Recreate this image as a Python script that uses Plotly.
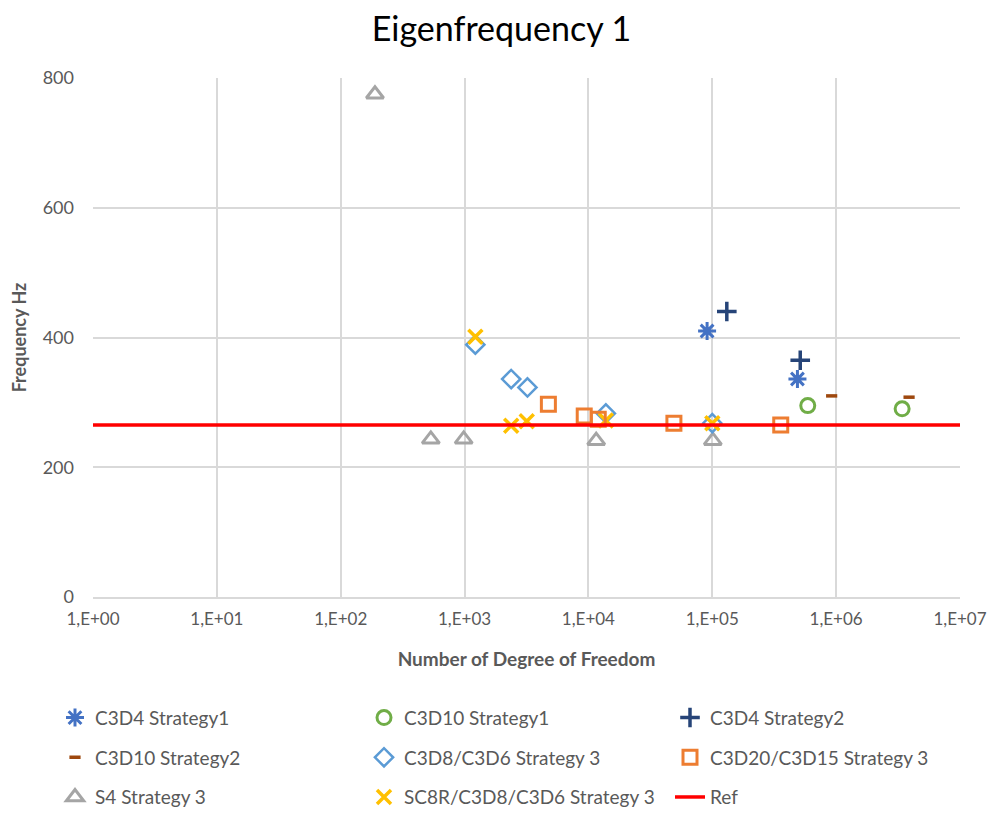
import plotly.graph_objects as go

# ---------------- data ----------------
c3d4_s1_x = [90800, 487000]
c3d4_s1_y = [410, 336]

c3d10_s1_x = [590000, 3410000]
c3d10_s1_y = [295, 290]

c3d4_s2_x = [131000, 513000]
c3d4_s2_y = [440, 365]

c3d10_s2_x = [920000, 3880000]
c3d10_s2_y = [310, 308]

c3d8_s3_x = [1222, 2378, 3219, 13830, 100000]
c3d8_s3_y = [389, 336, 323, 283, 268]

c3d20_s3_x = [4750, 9250, 12000, 49000, 357000]
c3d20_s3_y = [297, 279, 274, 268, 265]

s4_s3_x = [189, 534, 984, 11550, 101000]
s4_s3_y = [775, 243, 243, 241, 241]

sc8r_s3_x = [1222, 2378, 3177, 13830, 100000]
sc8r_s3_y = [401, 264, 271, 272, 268]

ref_value = 265
x_range_exp = [0, 7]
tick_exps = [0, 1, 2, 3, 4, 5, 6, 7]
tick_labels = ["1,E+00", "1,E+01", "1,E+02", "1,E+03", "1,E+04", "1,E+05", "1,E+06", "1,E+07"]
y_ticks = [0, 200, 400, 600, 800]

FONT = "Lato, 'Noto Sans', sans-serif"
GREY = "#595959"

fig = go.Figure()

def add(name, x, y, symbol, color, size, lw, legend):
    fig.add_trace(go.Scatter(
        x=x, y=y, mode="markers", name=name, legend=legend, legendgroup=name,
        marker=dict(symbol=symbol, size=size, color=color,
                    line=dict(color=color, width=lw)),
    ))

add("C3D4 Strategy1", c3d4_s1_x, c3d4_s1_y, "asterisk-open", "#4472C4", 15, 3, "legend")
add("C3D10 Strategy2", c3d10_s2_x, c3d10_s2_y, "line-ew-open", "#9E480E", 8, 3.5, "legend")
add("S4 Strategy 3", s4_s3_x, s4_s3_y, "triangle-up-open", "#A5A5A5", 15, 3, "legend")

add("C3D10 Strategy1", c3d10_s1_x, c3d10_s1_y, "circle-open", "#70AD47", 14, 3, "legend2")
add("C3D8/C3D6 Strategy 3", c3d8_s3_x, c3d8_s3_y, "diamond-open", "#5B9BD5", 14, 2.5, "legend2")
add("SC8R/C3D8/C3D6 Strategy 3", sc8r_s3_x, sc8r_s3_y, "x-thin-open", "#FFC000", 14, 3.5, "legend2")

add("C3D4 Strategy2", c3d4_s2_x, c3d4_s2_y, "cross-thin-open", "#264478", 14, 3.5, "legend3")
add("C3D20/C3D15 Strategy 3", c3d20_s3_x, c3d20_s3_y, "square-open", "#ED7D31", 14, 3, "legend3")

fig.add_trace(go.Scatter(
    x=[10 ** x_range_exp[0], 10 ** x_range_exp[1]], y=[ref_value, ref_value],
    mode="lines", name="Ref", legend="legend3", legendgroup="Ref",
    line=dict(color="#FF0000", width=3.5),
))

W, H = 995, 800
ML, MR, MT, MB = 85, 43, 70, 211
PW = W - ML - MR

def px_to_paper_x(fig_px):
    return (fig_px - ML) / PW

leg_common = dict(
    orientation="v", yanchor="top", y=-0.196, xanchor="left",
    font=dict(family=FONT, size=19, color=GREY), tracegroupgap=12,
    bgcolor="rgba(0,0,0,0)",
)

fig.update_layout(
    width=W, height=H,
    paper_bgcolor="white", plot_bgcolor="white",
    margin=dict(l=ML, r=MR, t=MT, b=MB, autoexpand=False),
    title=dict(text="Eigenfrequency 1", x=0.5 - 4 / W, xanchor="center", y=0.974, yanchor="middle",
               font=dict(family=FONT, size=34, color="#000000")),
    font=dict(family=FONT, color=GREY),
    legend=dict(x=px_to_paper_x(47), **leg_common),
    legend2=dict(x=px_to_paper_x(356), **leg_common),
    legend3=dict(x=px_to_paper_x(662), **leg_common),
    showlegend=True,
)

fig.update_xaxes(
    type="log", range=x_range_exp,
    tickvals=[10 ** e for e in tick_exps], ticktext=tick_labels,
    tickfont=dict(family=FONT, size=17, color=GREY),
    showgrid=True, gridcolor="#D9D9D9", gridwidth=1.5,
    showline=True, linecolor="#D9D9D9", linewidth=1.5,
    zeroline=False, ticks="", ticklabelstandoff=6, ticklabeloverflow="allow",
    title=dict(text="<b>Number of Degree of Freedom</b>", font=dict(family=FONT, size=19, color=GREY),
               standoff=25),
)
fig.update_yaxes(
    range=[0, 800], tickvals=y_ticks,
    tickfont=dict(family=FONT, size=18, color=GREY),
    showgrid=True, gridcolor="#D9D9D9", gridwidth=1.5,
    zeroline=False, showline=False, ticks="", ticklabelstandoff=18,
    title=dict(text="<b>Frequency Hz</b>", font=dict(family=FONT, size=18, color=GREY),
               standoff=16),
)

fig.write_html("out.html")
